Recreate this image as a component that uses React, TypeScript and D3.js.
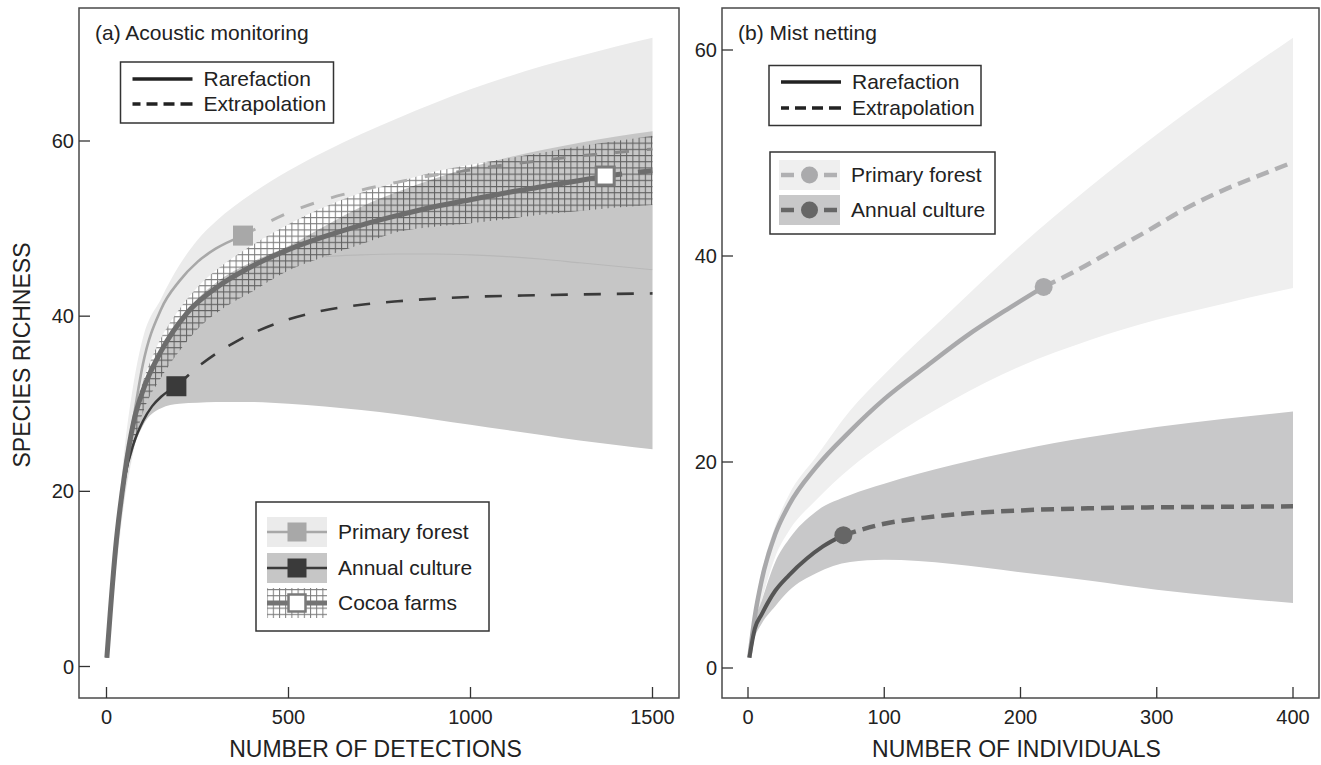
import React from 'react';
import * as d3 from 'd3';

const FONT = "'Liberation Sans', Arial, Helvetica, sans-serif";
const INK = '#222';

// (a) Acoustic monitoring, x = number of detections
const gridA = [1, 10, 25, 50, 75, 100, 150, 200, 250, 300, 400, 500, 600, 700, 800, 900, 1000, 1100, 1200, 1300, 1400, 1500];
const primaryUpperA = [1, 6, 14, 25, 32.5, 37.5, 42, 45.8, 48.7, 50.8, 54, 56.6, 58.8, 60.8, 62.6, 64.3, 65.9, 67.3, 68.6, 69.7, 70.8, 71.8];
const primaryLowerA = [1, 5, 11, 19.5, 25, 29.5, 34.5, 38, 40.3, 42, 44.5, 46.3, 46.8, 47, 47.1, 47.1, 47, 46.8, 46.5, 46.1, 45.7, 45.3];
const annualUpperA = [1, 5.5, 13, 22, 27.5, 31, 35.5, 39.5, 42, 43.8, 46.2, 48, 50.3, 52.5, 54.2, 55.7, 57, 58.1, 59, 59.8, 60.5, 61.1];
const annualLowerA = [1, 4.5, 11, 20.5, 25, 27.5, 29.5, 30, 30.1, 30.2, 30.2, 30, 29.7, 29.3, 28.8, 28.2, 27.6, 27, 26.4, 25.8, 25.3, 24.8];
const cocoaUpperA = [1, 6.5, 14.5, 23.5, 29, 32.5, 37.5, 40.8, 43.3, 45.2, 48.1, 50.5, 52.5, 54.1, 55.3, 56.5, 57.3, 58, 58.7, 59.4, 60, 60.6];
const cocoaLowerA = [1, 5.5, 12.5, 20.5, 25.5, 29, 33, 36, 38.5, 40.3, 42.8, 45.2, 46.8, 48.2, 49.6, 50.2, 50.6, 51.1, 51.6, 52, 52.4, 52.7];

const primaryRareXA = [1, 10, 25, 50, 75, 100, 150, 200, 250, 300, 375];
const primaryRareYA = [1, 6, 13.5, 21.5, 28.5, 34.5, 40.8, 44, 46.2, 47.7, 49.2];
const primaryExtXA = [375, 500, 600, 700, 800, 900, 1000, 1100, 1200, 1300, 1400, 1500];
const primaryExtYA = [49.2, 51.8, 53.3, 54.4, 55.3, 56.1, 56.7, 57.3, 57.8, 58.3, 58.7, 59.1];
const annualRareXA = [1, 10, 25, 50, 75, 100, 125, 150, 192];
const annualRareYA = [1, 6, 13.5, 21.5, 25.5, 28, 29.7, 30.8, 32];
const annualExtXA = [192, 260, 356, 462, 569, 700, 800, 1000, 1200, 1500];
const annualExtYA = [32, 34.5, 37.1, 39.1, 40.4, 41.3, 41.7, 42.2, 42.4, 42.6];
const cocoaRareXA = [1, 10, 25, 50, 75, 100, 150, 220, 300, 400, 500, 600, 700, 800, 900, 1000, 1100, 1200, 1300, 1370];
const cocoaRareYA = [1, 6, 13.5, 22, 28, 31.5, 36, 40.3, 43.2, 45.7, 47.6, 49.1, 50.4, 51.5, 52.5, 53.3, 54.1, 54.8, 55.5, 56];
const cocoaExtXA = [1370, 1430, 1500];
const cocoaExtYA = [56, 56.3, 56.6];

// (b) Mist netting, x = number of individuals
const gridB = [1, 5, 10, 20, 30, 50, 75, 100, 150, 200, 250, 300, 350, 400];
const primaryUpperB = [1, 5.5, 9.2, 13.8, 16.8, 20.5, 25, 28.5, 34.8, 41, 46.6, 51.8, 56.6, 61.2];
const primaryLowerB = [1, 4, 6.5, 10.8, 13.3, 16.3, 19.4, 21.9, 26, 29.3, 31.8, 33.8, 35.4, 36.9];
const annualUpperB = [1, 4.5, 6.5, 10.3, 12.5, 15.2, 16.8, 17.9, 19.7, 21.2, 22.4, 23.4, 24.2, 24.9];
const annualLowerB = [1, 3, 4.3, 6, 7.5, 9.2, 10.3, 10.5, 10.1, 9.3, 8.5, 7.6, 6.9, 6.3];

const primaryRareXB = [1, 5, 10, 20, 30, 50, 75, 100, 130, 160, 190, 217];
const primaryRareYB = [1, 5, 8.5, 13, 15.8, 19.5, 23, 26.1, 29.2, 32.2, 34.8, 37];
const primaryExtXB = [217, 240, 267, 294, 321, 349, 375, 400];
const primaryExtYB = [37, 38.5, 40.5, 42.5, 44.6, 46.4, 47.8, 49.1];
const annualRareXB = [1, 5, 10, 20, 30, 43, 55, 70];
const annualRareYB = [1, 3.8, 5.2, 7.5, 9, 10.6, 11.8, 12.9];
const annualExtXB = [70, 100, 130, 160, 200, 250, 300, 350, 400];
const annualExtYB = [12.9, 14, 14.6, 15, 15.3, 15.5, 15.6, 15.65, 15.7];

const ticksXA = [0, 500, 1000, 1500];
const ticksXB = [0, 100, 200, 300, 400];
const ticksY = [0, 20, 40, 60];

type Scale = d3.ScaleLinear<number, number>;

const bandPath = (x: Scale, y: Scale, grid: number[], lo: number[], hi: number[]) =>
  d3.area<number>()
    .x(d => x(d))
    .y0((d, i) => y(lo[i]))
    .y1((d, i) => y(hi[i]))
    .curve(d3.curveMonotoneX)(grid) || '';

const linePath = (x: Scale, y: Scale, xs: number[], ys: number[]) =>
  d3.line<number>()
    .x(d => x(d))
    .y((d, i) => y(ys[i]))
    .curve(d3.curveMonotoneX)(xs) || '';

function Frame({ left, right, top, bottom, x, ticksX, y, title, xLabel }) {
  return (
    <g>
      <rect x={left} y={top} width={right - left} height={bottom - top} fill="none" stroke="#4a4a4a" strokeWidth={1.5} />
      {ticksY.map(t => (
        <g key={'y' + t}>
          <line x1={left} x2={left + 11} y1={y(t)} y2={y(t)} stroke="#333" strokeWidth={1.3} />
          <text x={left - 5} y={y(t)} dy="0.35em" textAnchor="end" fontSize={20} fill={INK}>{t}</text>
        </g>
      ))}
      {ticksX.map(t => (
        <g key={'x' + t}>
          <line x1={x(t)} x2={x(t)} y1={bottom} y2={bottom - 11} stroke="#333" strokeWidth={1.3} />
          <text x={x(t)} y={bottom + 26} textAnchor="middle" fontSize={20} fill={INK}>{t}</text>
        </g>
      ))}
      <text x={left + 16} y={40} fontSize={21} fill={INK}>{title}</text>
      <text x={(x(ticksX[0]) + x(ticksX[ticksX.length - 1])) / 2 - 4} y={757} textAnchor="middle" fontSize={23} fill={INK}>{xLabel}</text>
    </g>
  );
}

function LineLegend({ x, y, w, h, row1, row2 }) {
  return (
    <g>
      <rect x={x} y={y} width={w} height={h} fill="#fff" stroke="#333" strokeWidth={1.5} />
      <line x1={x + 12} x2={x + 72} y1={row1} y2={row1} stroke="#222" strokeWidth={3.5} />
      <line x1={x + 12} x2={x + 72} y1={row2} y2={row2} stroke="#222" strokeWidth={3.5} strokeDasharray="8,6,11,6,11,6,12" />
      <text x={x + 83} y={row1} dy="0.35em" fontSize={21} fill={INK}>Rarefaction</text>
      <text x={x + 83} y={row2} dy="0.35em" fontSize={21} fill={INK}>Extrapolation</text>
    </g>
  );
}

export default function App() {
  const xA = d3.scaleLinear().domain([0, 1500]).range([106.5, 652.5]);
  const yA = d3.scaleLinear().domain([0, 60]).range([666.5, 141]);
  const xB = d3.scaleLinear().domain([0, 400]).range([748, 1293]);
  const yB = d3.scaleLinear().domain([0, 60]).range([668, 50]);

  const cocoaBand = bandPath(xA, yA, gridA, cocoaLowerA, cocoaUpperA);
  const annualBandA = bandPath(xA, yA, gridA, annualLowerA, annualUpperA);

  const sq = 20;
  const pMarkA = [375, 49.2];
  const aMarkA = [192, 32];
  const cMarkA = [1370, 56];

  const legA = [
    { y: 517, fill: '#ebebeb', line: '#a8a8a8', lw: 2.5, mark: '#a8a8a8', stroke: 'none', label: 'Primary forest' },
    { y: 553, fill: '#c6c6c6', line: '#3a3a3a', lw: 2.5, mark: '#3a3a3a', stroke: 'none', label: 'Annual culture' },
    { y: 588, fill: 'url(#grid)', line: '#747474', lw: 5, mark: '#fff', stroke: '#7a7a7a', label: 'Cocoa farms' },
  ];
  const legB = [
    { y: 160, fill: '#efefef', line: '#b0b0b2', mark: '#aaaaac', label: 'Primary forest' },
    { y: 195, fill: '#c8c8c9', line: '#666', mark: '#666', label: 'Annual culture' },
  ];

  return (
    <svg width={1321} height={765} style={{ position: 'absolute', left: 0, top: 0, background: '#fff' }} fontFamily={FONT}>
      <defs>
        <pattern id="grid" patternUnits="userSpaceOnUse" width={6.2} height={6.2}>
          <rect width={6.2} height={6.2} fill="#fff" />
          <path d="M0 0.5 H6.2 M0.5 0 V6.2" stroke="#7c7c7c" strokeWidth={1} />
        </pattern>
        <clipPath id="cocoaClip">
          <path d={cocoaBand} />
        </clipPath>
      </defs>

      {/* panel (a) */}
      <path d={bandPath(xA, yA, gridA, primaryLowerA, primaryUpperA)} fill="#ebebeb" />
      <path d={annualBandA} fill="#c6c6c6" />
      <path d={linePath(xA, yA, gridA, primaryLowerA)} fill="none" stroke="rgba(0,0,0,0.07)" strokeWidth={1.2} />
      <path d={cocoaBand} fill="url(#grid)" />
      <path d={linePath(xA, yA, primaryExtXA, primaryExtYA)} fill="none" stroke="#b0b0b0" strokeWidth={3} strokeDasharray="14,18" />
      <path d={annualBandA} fill="rgba(0,0,0,0.22)" clipPath="url(#cocoaClip)" />
      <path d={linePath(xA, yA, annualRareXA, annualRareYA)} fill="none" stroke="#3a3a3a" strokeWidth={2.5} />
      <path d={linePath(xA, yA, annualExtXA, annualExtYA)} fill="none" stroke="#3a3a3a" strokeWidth={2.6} strokeDasharray="17,16" />
      <path d={linePath(xA, yA, primaryRareXA, primaryRareYA)} fill="none" stroke="#a8a8a8" strokeWidth={2.6} />
      <path d={linePath(xA, yA, cocoaRareXA, cocoaRareYA)} fill="none" stroke="#6d6d6d" strokeWidth={5} />
      <path d={linePath(xA, yA, cocoaExtXA, cocoaExtYA)} fill="none" stroke="#6d6d6d" strokeWidth={5} strokeDasharray="17,16" />
      <rect x={xA(pMarkA[0]) - sq / 2} y={yA(pMarkA[1]) - sq / 2} width={sq} height={sq} fill="#a8a8a8" />
      <rect x={xA(aMarkA[0]) - sq / 2} y={yA(aMarkA[1]) - sq / 2} width={sq} height={sq} fill="#3a3a3a" />
      <rect x={xA(cMarkA[0]) - 9} y={yA(cMarkA[1]) - 9} width={18} height={18} fill="#fff" stroke="#7a7a7a" strokeWidth={3} />

      <Frame left={79} right={679} top={8} bottom={698} x={xA} ticksX={ticksXA} y={yA}
        title="(a) Acoustic monitoring" xLabel="NUMBER OF DETECTIONS" />
      <LineLegend x={120.5} y={62} w={213} h={61} row1={79} row2={104} />

      <rect x={256} y={502} width={233} height={129} fill="#fff" stroke="#333" strokeWidth={1.5} />
      {legA.map(d => (
        <g key={d.label}>
          <rect x={267} y={d.y} width={60} height={30} fill={d.fill} />
          <line x1={267} x2={327} y1={d.y + 15} y2={d.y + 15} stroke={d.line} strokeWidth={d.lw} />
          {d.stroke === 'none'
            ? <rect x={297 - 9.5} y={d.y + 5.5} width={19} height={19} fill={d.mark} />
            : <rect x={297 - 8.5} y={d.y + 6.5} width={17} height={17} fill={d.mark} stroke={d.stroke} strokeWidth={2.5} />}
          <text x={338} y={d.y + 15} dy="0.35em" fontSize={21} fill={INK}>{d.label}</text>
        </g>
      ))}

      {/* panel (b) */}
      <path d={bandPath(xB, yB, gridB, primaryLowerB, primaryUpperB)} fill="#efefef" />
      <path d={bandPath(xB, yB, gridB, annualLowerB, annualUpperB)} fill="#c8c8c9" />
      <path d={linePath(xB, yB, primaryExtXB, primaryExtYB)} fill="none" stroke="#b0b0b2" strokeWidth={4.5} strokeDasharray="13,7" />
      <path d={linePath(xB, yB, primaryRareXB, primaryRareYB)} fill="none" stroke="#a9a9ab" strokeWidth={4.5} />
      <path d={linePath(xB, yB, annualExtXB, annualExtYB)} fill="none" stroke="#666" strokeWidth={4.5} strokeDasharray="13,7" />
      <path d={linePath(xB, yB, annualRareXB, annualRareYB)} fill="none" stroke="#555" strokeWidth={4} />
      <circle cx={xB(217)} cy={yB(37)} r={9} fill="#aaaaac" />
      <circle cx={xB(70)} cy={yB(12.9)} r={9} fill="#666" />

      <Frame left={722} right={1319} top={8} bottom={698} x={xB} ticksX={ticksXB} y={yB}
        title="(b) Mist netting" xLabel="NUMBER OF INDIVIDUALS" />
      <LineLegend x={769} y={65.5} w={212} h={60} row1={82} row2={108} />

      <rect x={770} y={152} width={225} height={82} fill="#fff" stroke="#333" strokeWidth={1.5} />
      {legB.map(d => (
        <g key={d.label}>
          <rect x={779} y={d.y} width={61} height={30} fill={d.fill} />
          <line x1={781} x2={794} y1={d.y + 15} y2={d.y + 15} stroke={d.line} strokeWidth={4.5} />
          <line x1={824} x2={837} y1={d.y + 15} y2={d.y + 15} stroke={d.line} strokeWidth={4.5} />
          <circle cx={809.5} cy={d.y + 15} r={8.5} fill={d.mark} />
          <text x={851} y={d.y + 15} dy="0.35em" fontSize={21} fill={INK}>{d.label}</text>
        </g>
      ))}

      <text transform="translate(30,355) rotate(-90)" textAnchor="middle" fontSize={23} fill={INK}>SPECIES RICHNESS</text>
    </svg>
  );
}
